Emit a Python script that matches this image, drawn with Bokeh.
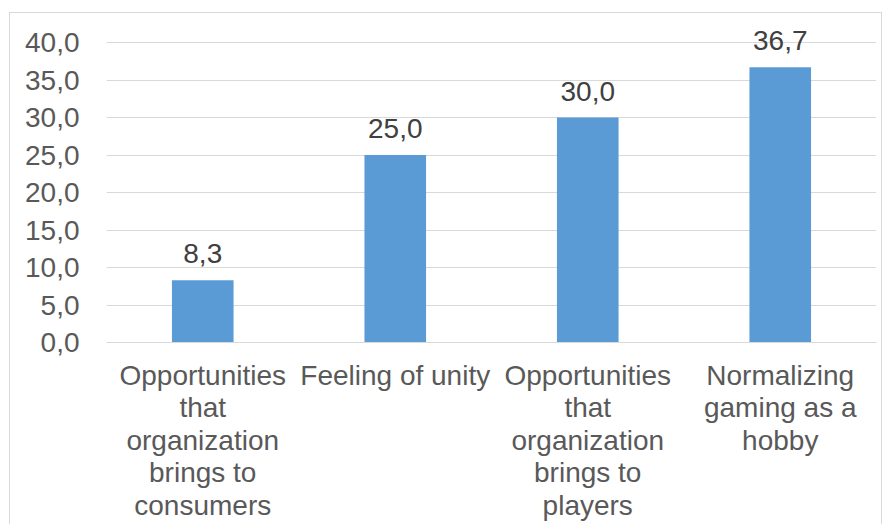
from bokeh.plotting import figure
from bokeh.models import ColumnDataSource, FactorRange, Range1d, FixedTicker, CustomJSTickFormatter
from bokeh.core.properties import value
from bokeh.embed import file_html
from bokeh.resources import INLINE

categories = [
    "Opportunities\nthat\norganization\nbrings to\nconsumers",
    "Feeling of unity",
    "Opportunities\nthat\norganization\nbrings to\nplayers",
    "Normalizing\ngaming as a\nhobby",
]
values = [8.3, 25.0, 30.0, 36.7]
value_labels = ["8,3", "25,0", "30,0", "36,7"]
y_ticks = [0, 5, 10, 15, 20, 25, 30, 35, 40]

FONT = "Liberation Sans"
FS = "28px"

src = ColumnDataSource(dict(x=categories, top=values, lab=value_labels))

p = figure(width=873, height=512, x_range=FactorRange(*categories, range_padding=0),
           y_range=Range1d(0, 42), output_backend="svg", toolbar_location=None,
           min_border_left=96, min_border_right=7, min_border_top=14, min_border_bottom=183)
p.margin = (12, 0, 0, 9)
p.styles = {"border-top": "1px solid #d9d9d9", "border-left": "1px solid #d9d9d9",
            "border-right": "1px solid #d9d9d9"}
p.outline_line_color = None
p.background_fill_color = "white"
p.border_fill_color = "white"

p.vbar(x="x", top="top", width=0.32, source=src, fill_color="#5b9bd5", line_color=None)
p.text(x="x", y="top", text="lab", source=src, text_align="center", text_baseline="bottom",
       y_offset=-17, text_font=value(FONT), text_font_size=FS, text_color="#404040")

p.xgrid.grid_line_color = None
p.ygrid.grid_line_color = "#d9d9d9"
p.ygrid.grid_line_width = 1

p.yaxis.ticker = FixedTicker(ticks=y_ticks)
p.yaxis.formatter = CustomJSTickFormatter(code="return tick.toFixed(1).replace('.', ',');")
p.yaxis.axis_line_color = None
p.yaxis.major_tick_line_color = None
p.yaxis.minor_tick_line_color = None
p.yaxis.major_label_text_font = FONT
p.yaxis.major_label_text_font_size = FS
p.yaxis.major_label_text_color = "#595959"
p.yaxis.major_label_standoff = 21

p.xaxis.axis_line_color = "#d9d9d9"
p.xaxis.major_tick_line_color = None
p.xaxis.minor_tick_line_color = None
p.xaxis.major_label_text_font = FONT
p.xaxis.major_label_text_font_size = FS
p.xaxis.major_label_text_color = "#595959"
p.xaxis.major_label_text_line_height = 1.05
p.xaxis.major_label_standoff = 11

open("out.html", "w").write(file_html(p, INLINE))
